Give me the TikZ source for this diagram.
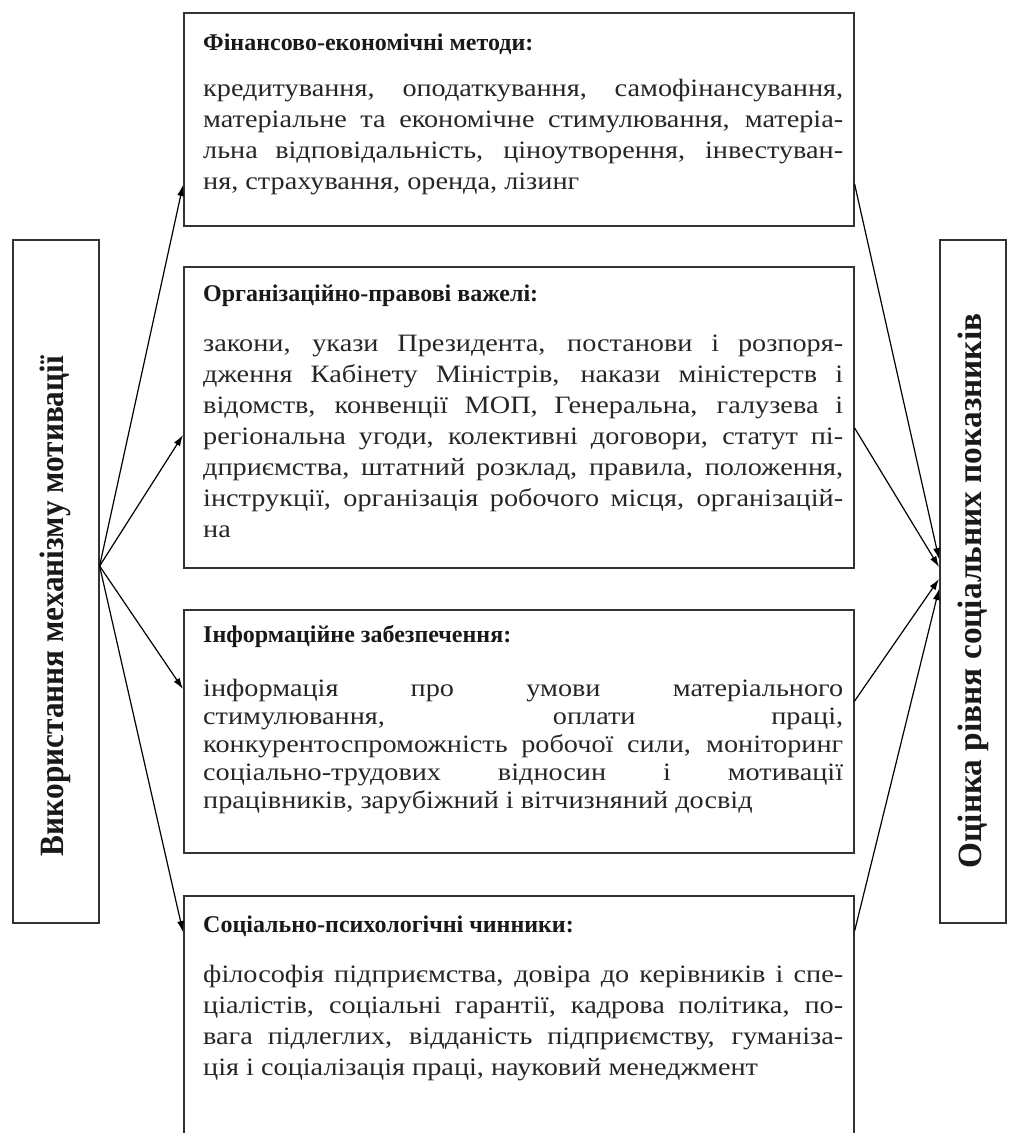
\documentclass[tikz,border=0pt]{standalone}
\usepackage{fontspec}
\setmainfont{Liberation Serif}
\newfontfamily\bodyfont{Liberation Serif}[FakeStretch=1.13]
\newfontfamily\labelfont{Liberation Serif}[FakeStretch=0.92]
\newfontfamily\labelfontb{Liberation Serif}[FakeStretch=0.98]
\usetikzlibrary{arrows.meta}
\tikzset{
  box/.style={draw=black!80, line width=1.6pt, inner sep=0pt, anchor=north west},
  arr/.style={draw=black, line width=1.2pt, -{Latex[length=11pt,width=7pt]}},
  head/.style={font=\bfseries\fontsize{24}{28}\selectfont, anchor=base west, inner sep=0pt, text=black!90},
  body/.style={font=\bodyfont\fontsize{25}{31}\selectfont, text width=640pt, align=justify, anchor=base west, inner sep=0pt, text=black!85},
  vlabel/.style={font=\labelfont\bfseries\fontsize{34}{38}\selectfont, rotate=90, inner sep=0pt, text=black!90}
}
\begin{document}
\begin{tikzpicture}[x=1pt,y=-1pt]
\useasboundingbox (0,0) rectangle (1013,1133);
\clip (0,0) rectangle (1013,1133);
\tolerance=10000 \hbadness=10000 \exhyphenpenalty=10000 \hyphenpenalty=10000
% side boxes
\node[box, minimum width=86pt, minimum height=683pt] (lb) at (12,239) {};
\node[box, minimum width=66pt, minimum height=683pt] (rb) at (939,239) {};
\node[vlabel] (lt) at (55,606) {Використання механізму мотивації};
\node[vlabel, font=\labelfontb\bfseries\fontsize{34}{38}\selectfont] (rt) at (973,591) {Оцінка рівня соціальних показників};
% central boxes
\node[box, minimum width=670pt, minimum height=213pt] (b1) at (183,12) {};
\node[box, minimum width=670pt, minimum height=301pt] (b2) at (183,266) {};
\node[box, minimum width=670pt, minimum height=243pt] (b3) at (183,609) {};
\node[box, minimum width=670pt, minimum height=265pt] (b4) at (183,895) {};
% texts
\node[head] (h1) at (203,50) {Фінансово-економічні методи:};
\node[body] (t1) at (203,96) {кредитування, оподаткування, самофінансування,\linebreak
матеріальне та економічне стимулювання, матеріа-\linebreak
льна відповідальність, ціноутворення, інвестуван-\linebreak
ня, страхування, оренда, лізинг};
\node[head] (h2) at (203,301) {Організаційно-правові важелі:};
\node[body] (t2) at (203,351) {закони, укази Президента, постанови і розпоря-\linebreak
дження Кабінету Міністрів, накази міністерств і\linebreak
відомств, конвенції МОП, Генеральна, галузева і\linebreak
регіональна угоди, колективні договори, статут пі-\linebreak
дприємства, штатний розклад, правила, положення,\linebreak
інструкції, організація робочого місця, організацій-\linebreak
на};
\node[head] (h3) at (203,642) {Інформаційне забезпечення:};
\node[body, font=\bodyfont\fontsize{25}{28}\selectfont] (t3) at (203,696) {інформація про умови матеріального\linebreak
стимулювання, оплати праці,\linebreak
конкурентоспроможність робочої сили, моніторинг\linebreak
соціально-трудових відносин і мотивації\linebreak
працівників, зарубіжний і вітчизняний досвід};
\node[head] (h4) at (203,932) {Соціально-психологічні чинники:};
\node[body] (t4) at (203,982) {філософія підприємства, довіра до керівників і спе-\linebreak
ціалістів, соціальні гарантії, кадрова політика, по-\linebreak
вага підлеглих, відданість підприємству, гуманіза-\linebreak
ція і соціалізація праці, науковий менеджмент};
% connectors from left box
\coordinate (o) at ([yshift=-327pt]lb.north east);
\draw[arr] (o) -- ([yshift=-173pt]b1.north west);
\draw[arr] (o) -- ([yshift=-169pt]b2.north west);
\draw[arr] (o) -- ([yshift=-80pt]b3.north west);
\draw[arr] (o) -- ([yshift=-37pt]b4.north west);
% connectors to right box
\draw[arr] ([yshift=-172pt]b1.north east) -- ([yshift=-320pt]rb.north west);
\draw[arr] ([yshift=-162pt]b2.north east) -- ([yshift=-328pt]rb.north west);
\draw[arr] ([yshift=-92pt]b3.north east) -- ([yshift=-340pt]rb.north west);
\draw[arr] ([yshift=-36pt]b4.north east) -- ([yshift=-350pt]rb.north west);
\end{tikzpicture}
\end{document}
